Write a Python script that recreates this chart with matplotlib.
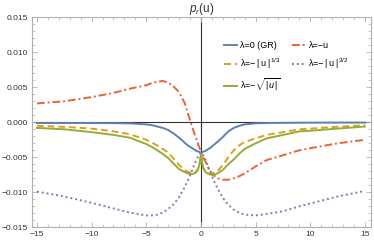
import matplotlib
matplotlib.use('Agg')
import matplotlib.pyplot as plt
from matplotlib.ticker import MultipleLocator, FuncFormatter

plt.rcParams['font.family'] = ['Liberation Sans', 'DejaVu Sans']
plt.rcParams['mathtext.fontset'] = 'custom'
plt.rcParams['mathtext.rm'] = 'Liberation Sans'
plt.rcParams['mathtext.it'] = 'Liberation Sans:italic'

# values
u = [-15, -12.5, -10, -8, -6.5, -5, -4.5, -4, -3.5, -3, -2.5, -2, -1.5, -1.2, -0.9, -0.6, -0.4,
     -0.2, -0.1, 0, 0.1, 0.2, 0.4, 0.6, 0.9, 1.2, 1.5, 2, 2.5, 3, 3.5, 4, 5, 6, 7.5, 9, 10,
     12.5, 15]

p_gr = [-0.0001, -0.0001, -0.0001, -0.00012, -0.00015, -0.0003, -0.0004, -0.0006, -0.0008,
        -0.0011, -0.0016, -0.0022, -0.0029, -0.0033, -0.0036, -0.0039, -0.0041,
        -0.0042, -0.0043, -0.0043, -0.0043, -0.0042, -0.0041, -0.0039, -0.0036, -0.0032,
        -0.0028, -0.0021, -0.0013, -0.0008, -0.0005, -0.0003, -0.00015, -0.0001, -0.00008,
        -0.00006, -0.00005, -0.00004, -0.00004]

p_cbrt = [-0.0005, -0.00065, -0.0009, -0.0013, -0.0017, -0.0025, -0.0029, -0.0033, -0.0038,
          -0.0043, -0.0052, -0.0061, -0.0068, -0.0071, -0.0072, -0.0073, -0.0071,
          -0.0064, -0.0057, -0.0045, -0.0057, -0.0064, -0.0071, -0.0073, -0.0073, -0.0072,
          -0.0070, -0.0061, -0.0050, -0.0040, -0.0033, -0.0028, -0.0023, -0.0018, -0.0014,
          -0.0010, -0.0009, -0.00063, -0.00043]

p_sqrt = [-0.0008, -0.0010, -0.0014, -0.0018, -0.0022, -0.0031, -0.0035, -0.0040, -0.0045,
          -0.0051, -0.0059, -0.0067, -0.0071, -0.0073, -0.0074, -0.0073, -0.0070,
          -0.0064, -0.0057, -0.0046, -0.0057, -0.0065, -0.0071, -0.0073, -0.0075, -0.0075,
          -0.0073, -0.0068, -0.0060, -0.0053, -0.0045, -0.0038, -0.0030, -0.0023, -0.0018,
          -0.0013, -0.0012, -0.0009, -0.0006]

p_lin = [0.0027, 0.0030, 0.0036, 0.0042, 0.0048, 0.0053, 0.0056, 0.0058, 0.0059, 0.0057,
         0.0051, 0.0043, 0.0028, 0.0013, -0.0002, -0.0016, -0.0025,
         -0.0034, -0.0038, -0.0043, -0.0046, -0.0050, -0.0056, -0.0063, -0.0071, -0.0076,
         -0.0080, -0.0082, -0.0082, -0.0080, -0.0077, -0.0073, -0.0063, -0.0054, -0.0047,
         -0.0040, -0.0037, -0.0030, -0.0025]

p_32 = [-0.0099, -0.0106, -0.0115, -0.0123, -0.0129, -0.0133, -0.0133, -0.0132, -0.0129,
        -0.0124, -0.0117, -0.0107, -0.0093, -0.0083, -0.0072, -0.0060, -0.0053,
        -0.0047, -0.0045, -0.0043, -0.0045, -0.0047, -0.0053, -0.0061, -0.0073, -0.0084,
        -0.0094, -0.0108, -0.0118, -0.0125, -0.0129, -0.0132, -0.0133, -0.0131, -0.0127,
        -0.0120, -0.0116, -0.0106, -0.0098]

labels = ['λ=0 (GR)', 'λ=−\u2009|\u2009u\u2009|$^{1/3}$', r'λ=−$\sqrt{|\,u\,|}$', 'λ=−u',
          'λ=−\u2009|\u2009u\u2009|$^{3/2}$']
colors = ['#5E81B5', '#E19C24', '#8FB032', '#EB6235', '#8778B3']

fig = plt.figure(figsize=(3.74, 2.41), dpi=100)
ax = fig.add_axes([0.0856, 0.0568, 0.9064, 0.8714])

ax.axhline(0, color='#333333', lw=0.8, zorder=1)
ax.axvline(0, color='#333333', lw=0.8, zorder=1)

lw = 1.4
h1, = ax.plot(u, p_gr, color=colors[0], lw=lw)
h4, = ax.plot(u, p_lin, color=colors[3], lw=lw, dashes=(4, 1.5, 1, 1.5))
h2, = ax.plot(u, p_cbrt, color=colors[1], lw=lw, dashes=(3.5, 2))
h5, = ax.plot(u, p_32, color=colors[4], lw=lw, dashes=(1, 1.5))
h3, = ax.plot(u, p_sqrt, color=colors[2], lw=lw)

ax.set_xlim(-15.45, 15.55)
ax.set_ylim(-0.015, 0.015)

ax.xaxis.set_major_locator(MultipleLocator(5))
ax.xaxis.set_minor_locator(MultipleLocator(1))
ax.yaxis.set_major_locator(MultipleLocator(0.005))
ax.yaxis.set_minor_locator(MultipleLocator(0.001))
ax.yaxis.set_major_formatter(FuncFormatter(lambda v, p: f'{v:.3f}'.replace('-', '\u2212')))

for s in ax.spines.values():
    s.set_color('#b0b0b0')
    s.set_linewidth(0.8)
ax.tick_params(which='both', direction='in', top=True, right=True, color='#b0b0b0',
               labelsize=6, labelcolor='#333333', pad=3)
ax.tick_params(which='major', length=3.5, width=0.6)
ax.tick_params(which='minor', length=2, width=0.5)

ax.set_title(r'$p_r$(u)', fontsize=8.5, pad=3, color='#333333')

ax.legend([h1, h2, h3, h4, h5], labels, ncol=2, frameon=False, fontsize=6.5,
          loc='upper left', bbox_to_anchor=(0.565, 0.885), handlelength=1.45,
          handletextpad=0.4, columnspacing=1.2, labelspacing=0.65, borderaxespad=0,
          borderpad=0)

fig.savefig('out.png', dpi=100)
